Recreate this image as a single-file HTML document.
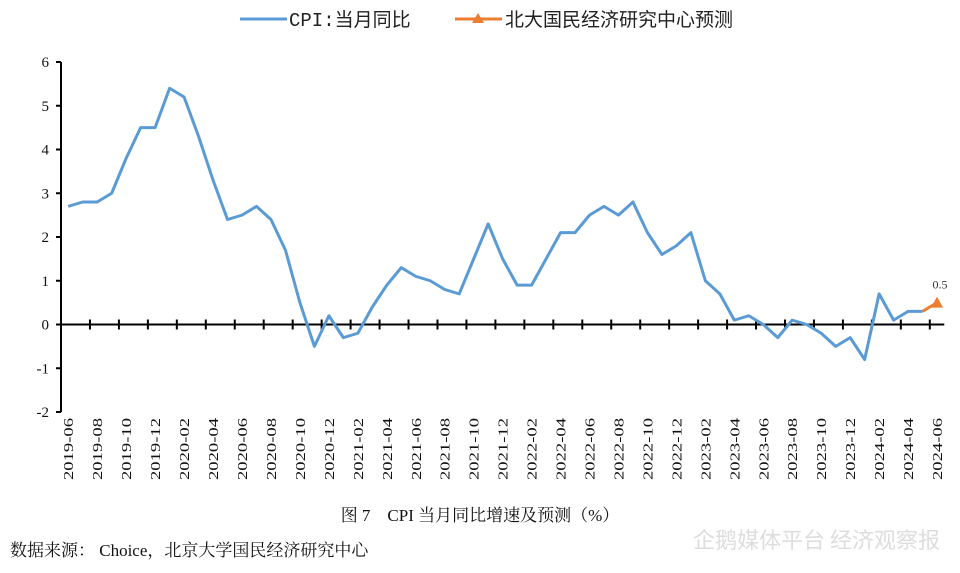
<!DOCTYPE html>
<html><head><meta charset="utf-8"><style>
body{margin:0;background:#fff;width:960px;height:568px;overflow:hidden;font-family:"Liberation Serif","Noto Serif CJK SC",serif}
</style></head><body>
<svg width="960" height="568" xmlns="http://www.w3.org/2000/svg">
<g id="legend">
<line x1="240" y1="19" x2="287" y2="19" stroke="#5B9BD5" stroke-width="3"/>
<text x="289" y="26" font-size="19" font-family="Liberation Mono,'Noto Sans CJK SC',monospace" fill="#222">CPI:当月同比</text>
<line x1="455" y1="19" x2="502" y2="19" stroke="#ED7D31" stroke-width="3"/>
<polygon points="478,13 484,23 472,23" fill="#ED7D31"/>
<text x="505" y="26" font-size="19" font-family="'Noto Sans CJK SC',sans-serif" fill="#222">北大国民经济研究中心预测</text>
</g>
<g id="axes"></g>
<g id="series"></g>
<text x="480" y="521" text-anchor="middle" font-size="17" fill="#111">图 7　CPI 当月同比增速及预测（%）</text>
<text x="10" y="556" font-size="17" fill="#111">数据来源：  Choice，北京大学国民经济研究中心</text>
<text x="940" y="548" text-anchor="end" font-size="22" font-family="'Noto Sans CJK SC',sans-serif" fill="#ddd">企鹅媒体平台 经济观察报</text>
</svg>
<script>
const categories=[];
for(let y=2019,m=6;!(y===2024&&m===7);){categories.push(y+'-'+String(m).padStart(2,'0'));m++;if(m>12){m=1;y++;}}
const cpiValues=[2.7,2.8,2.8,3.0,3.8,4.5,4.5,5.4,5.2,4.3,3.3,2.4,2.5,2.7,2.4,1.7,0.5,-0.5,0.2,-0.3,-0.2,0.4,0.9,1.3,1.1,1.0,0.8,0.7,1.5,2.3,1.5,0.9,0.9,1.5,2.1,2.1,2.5,2.7,2.5,2.8,2.1,1.6,1.8,2.1,1.0,0.7,0.1,0.2,0.0,-0.3,0.1,0.0,-0.2,-0.5,-0.3,-0.8,0.7,0.1,0.3,0.3];
const forecastValues=[0.3,0.5];
const forecastStart=59;
const yTicks=[-2,-1,0,1,2,3,4,5,6];
const NS="http://www.w3.org/2000/svg";
const x0=61,bw=14.48,yTop=62,yBot=412,yMin=-2,yMax=6;
const X=i=>x0+(i+0.5)*bw;
const Y=v=>yBot-(v-yMin)/(yMax-yMin)*(yBot-yTop);
function mk(t,a,p){const e=document.createElementNS(NS,t);for(const k in a)e.setAttribute(k,a[k]);p.appendChild(e);return e;}
const ax=document.getElementById('axes'),se=document.getElementById('series');
let e=mk('line',{x1:x0,y1:yTop,x2:x0,y2:yBot,stroke:'#000','stroke-width':2},ax);


yTicks.forEach(v=>{
 let t=mk('line',{x1:x0-5,y1:Y(v),x2:x0,y2:Y(v),stroke:'#000','stroke-width':2},ax);
 
 
 let l=mk('text',{x:x0-12,y:Y(v)+5,'text-anchor':'end','font-size':15,fill:'#111'},ax);
 l.textContent=v;
 
 
});
const xr=x0+categories.length*bw;
e=mk('line',{x1:x0,y1:Y(0),x2:xr,y2:Y(0),stroke:'#000','stroke-width':2},ax);


for(let k=0;k<=categories.length;k+=2){
 let t=mk('line',{x1:x0+k*bw,y1:Y(0)-5,x2:x0+k*bw,y2:Y(0)+5,stroke:'#000','stroke-width':2},ax);
 
 
}
categories.forEach((c,i)=>{
 if(i%2)return;
 const x=X(i);
 let l=mk('text',{x:0,y:0,'text-anchor':'end','font-size':14,fill:'#111',textLength:62,lengthAdjust:'spacingAndGlyphs',transform:`translate(${x+5},418) rotate(-90)`},ax);
 l.textContent=c;
 
 
});
let p=mk('polyline',{points:cpiValues.map((v,i)=>X(i)+','+Y(v)).join(' '),fill:'none',stroke:'#5B9BD5','stroke-width':3,'stroke-linejoin':'round'},se);


let f=mk('polyline',{points:forecastValues.map((v,i)=>X(forecastStart+i)+','+Y(v)).join(' '),fill:'none',stroke:'#ED7D31','stroke-width':3},se);


const li=forecastStart+forecastValues.length-1,lv=forecastValues[forecastValues.length-1];
const mx=X(li),my=Y(lv);
let m=mk('polygon',{points:`${mx},${my-6} ${mx+6},${my+5} ${mx-6},${my+5}`,fill:'#ED7D31'},se);


let lb=mk('text',{x:mx+3,y:my-14,'text-anchor':'middle','font-size':12,fill:'#333'},se);
lb.textContent=lv;


</script>
</body></html>
